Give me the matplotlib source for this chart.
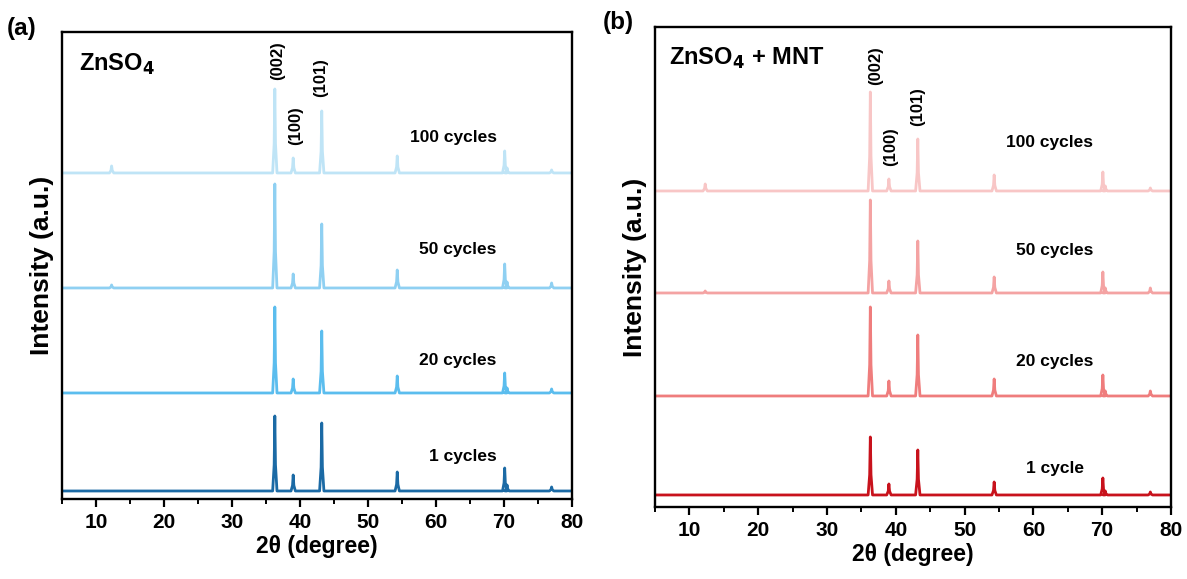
import numpy as np
import matplotlib
matplotlib.use("Agg")
import matplotlib.pyplot as plt
from matplotlib.ticker import MultipleLocator

plt.rcParams["font.family"] = ["Liberation Sans", "DejaVu Sans"]
plt.rcParams["font.weight"] = "bold"

# Peak positions (2theta, degree) shared by all patterns
peaks = [12.3, 36.3, 39.0, 43.2, 54.3, 70.1, 70.45, 77.0]

# Panel (a): ZnSO4, peak heights (a.u.), per cycle count
a_labels = ["1 cycles", "20 cycles", "50 cycles", "100 cycles"]
a_offsets = [8, 106, 211, 326]
a_heights = [
    [0, 75, 16, 68, 19, 23, 6, 4],
    [0, 86, 14, 62, 17, 20, 5, 4],
    [3, 104, 14, 64, 18, 24, 6, 5],
    [7, 84, 15, 62, 17, 22, 5, 3],
]
a_colors = ["#1b6aa5", "#5bbdee", "#8fd0f2", "#bfe4f6"]

# Panel (b): ZnSO4 + MNT
b_labels = ["1 cycle", "20 cycles", "50 cycles", "100 cycles"]
b_offsets = [12, 111, 214, 316]
b_heights = [
    [0, 58, 11, 45, 13, 17, 4, 3],
    [0, 89, 15, 61, 17, 21, 5, 5],
    [2, 93, 12, 52, 16, 21, 5, 5],
    [7, 99, 12, 52, 16, 19, 5, 3],
]
b_colors = ["#c8121c", "#ef7d7d", "#f4a3a3", "#f8c6c6"]

hkl = ["(002)", "(100)", "(101)"]


def pattern(heights, offset, halfw=0.32):
    xs = [5.0]
    ys = [offset]
    for p, h in sorted(zip(peaks, heights)):
        if h <= 0:
            continue
        xs += [p - halfw, p - halfw * 0.3, p, p + halfw * 0.3, p + halfw]
        ys += [offset, offset + h * 0.35, offset + h, offset + h * 0.35, offset]
    xs.append(80.0)
    ys.append(offset)
    return xs, ys


fig = plt.figure(figsize=(11.87, 5.79), dpi=100)
ax_a = fig.add_axes([0.0522, 0.1382, 0.4297, 0.8066])
ax_b = fig.add_axes([0.5518, 0.1244, 0.4347, 0.8290])

panels = [
    (ax_a, a_heights, a_offsets, a_colors, a_labels, 467,
     [(62.5, 361), (63.2, 249), (63.2, 138), (64.0, 42)][::-1],
     [(36.7, 438), (39.3, 373), (43.1, 421)],
     (7.5, 435, r"ZnSO$_\mathbf{4}$"), "(a)", (0.006, 0.95)),
    (ax_b, b_heights, b_offsets, b_colors, b_labels, 480,
     [(62.4, 364), (63.1, 256), (63.1, 145), (63.1, 38)][::-1],
     [(37.0, 441), (39.3, 360), (43.2, 400)],
     (7.0, 449, r"ZnSO$_\mathbf{4}$ + MNT"), "(b)", (0.508, 0.962)),
]

for (ax, heights, offsets, colors, labels, ytop, lab_pos, hkl_pos,
     title, tag, tag_pos) in panels:
    for h, off, c in zip(heights, offsets, colors):
        xs, ys = pattern(h, off)
        ax.plot(xs, ys, color=c, lw=2.0, solid_joinstyle="round")
    for (x, y), lab in zip(lab_pos, labels):
        ax.text(x, y, lab, fontsize=12.5, fontweight="bold",
                ha="center", va="center")
    for (x, y), lab in zip(hkl_pos, hkl):
        ax.text(x, y, lab, fontsize=12, fontweight="bold", rotation=90,
                ha="center", va="center")
    ax.text(title[0], title[1], title[2], fontsize=17, fontweight="bold",
            ha="left", va="center")
    fig.text(tag_pos[0], tag_pos[1], tag, fontsize=17.5, fontweight="bold",
             ha="left", va="center")

    ax.set_xlim(5, 80)
    ax.set_ylim(0, ytop)
    ax.xaxis.set_major_locator(MultipleLocator(10))
    ax.xaxis.set_minor_locator(MultipleLocator(5))
    ax.set_yticks([])
    ax.tick_params(axis="x", which="major", direction="out", length=6,
                   width=1.6, labelsize=15, pad=4)
    ax.tick_params(axis="x", which="minor", direction="out", length=3.5,
                   width=1.4)
    for sp in ax.spines.values():
        sp.set_linewidth(1.7)
    for lbl in ax.get_xticklabels():
        lbl.set_fontweight("bold")
    ax.set_xlabel("2θ (degree)", fontsize=16.5, fontweight="bold", labelpad=2)
    ax.set_ylabel("Intensity (a.u.)", fontsize=19, fontweight="bold",
                  labelpad=6)

fig.savefig("out.png", dpi=100)
